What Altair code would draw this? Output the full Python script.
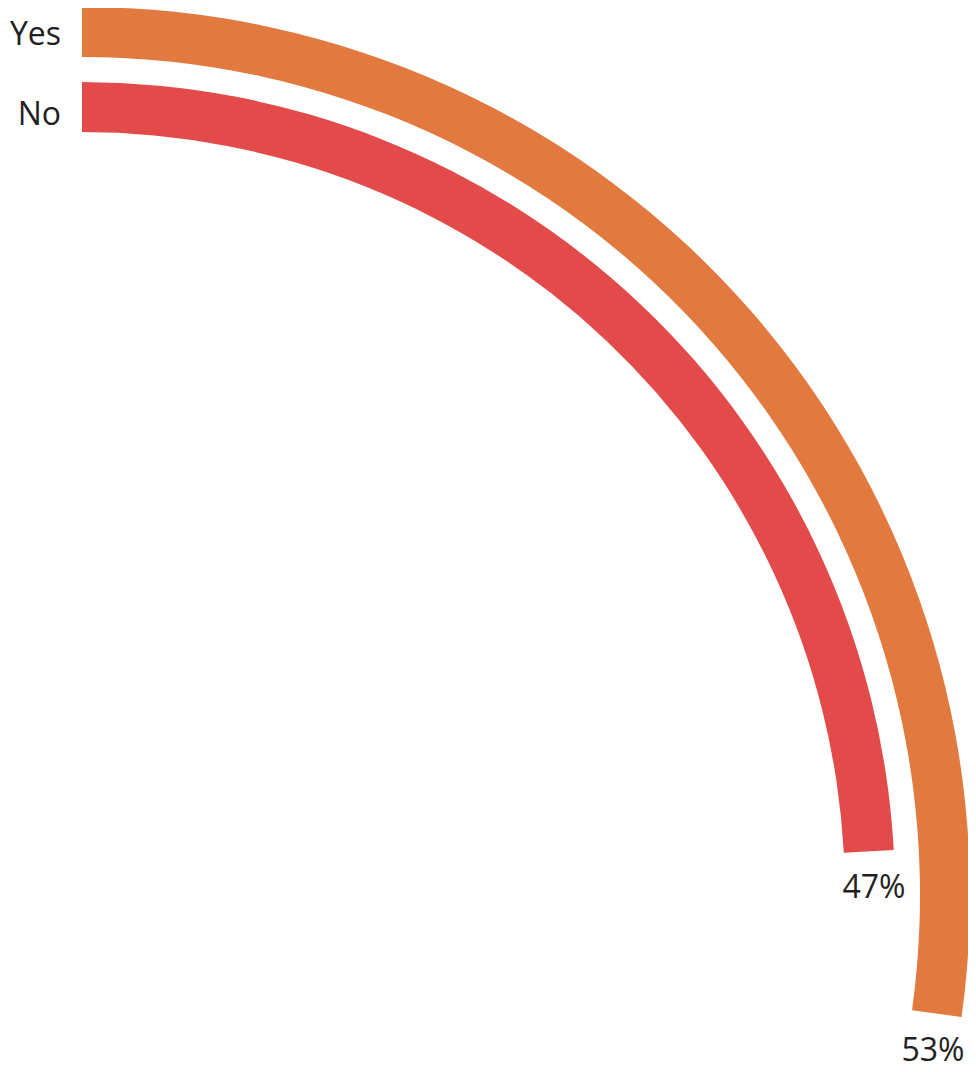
import altair as alt
import pandas as pd

categories = ["Yes", "No"]
values = [53, 47]
labels = ["53%", "47%"]

df = pd.DataFrame({"category": categories, "value": values, "label": labels})

CX, CY = 74, 887
theta_scale = alt.Scale(domain=[0, 100], range=[0, 3.224])
colors = {"Yes": "#E2793F", "No": "#E34B4B"}
rings = {"Yes": (888, 838), "No": (813, 763)}
name_y = {"Yes": 37, "No": 117}
FONT = "Open Sans"
TXT = "#231F20"

base = alt.Chart(df)
layers = []
for cat in categories:
    outer, inner = rings[cat]
    mid = (outer + inner) / 2 + 4
    sub = base.transform_filter(alt.datum.category == cat)
    layers.append(
        sub.mark_arc(radius=outer, radius2=inner, color=colors[cat]).encode(
            theta=alt.Theta("value:Q", scale=theta_scale),
            x=alt.value(CX),
            y=alt.value(CY),
        )
    )
    layers.append(
        sub.mark_text(
            radius=mid, thetaOffset=47 / mid, align="center", baseline="alphabetic",
            fontSize=32, font=FONT, color=TXT,
        ).encode(
            theta=alt.Theta("value:Q", scale=theta_scale, stack=None),
            x=alt.value(CX),
            y=alt.value(CY),
            text="label:N",
        )
    )
    layers.append(
        sub.mark_text(
            align="right", baseline="alphabetic", fontSize=32, font=FONT, color=TXT,
        ).encode(
            x=alt.value(53),
            y=alt.value(name_y[cat]),
            text="category:N",
        )
    )

chart = alt.layer(*layers).properties(
    width=960, height=1056, autosize=alt.AutoSizeParams(type="none"), padding=0
).configure_view(stroke=None)

chart.save("out.html", embed_options={"renderer": "svg", "actions": False})
